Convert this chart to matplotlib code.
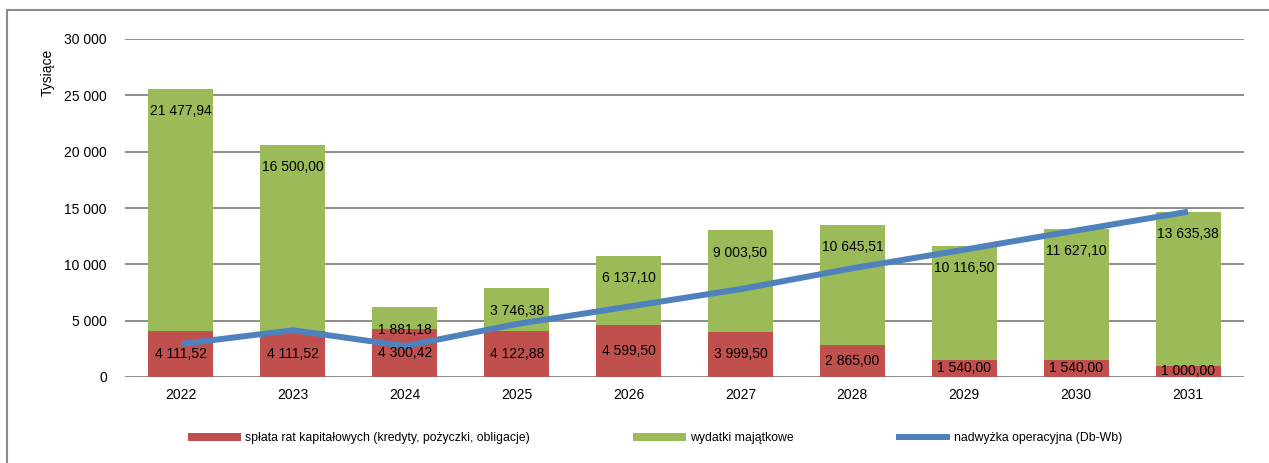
import matplotlib.pyplot as plt
from matplotlib.lines import Line2D
import numpy as np

years = ["2022", "2023", "2024", "2025", "2026", "2027", "2028", "2029", "2030", "2031"]
splata = [4111.52, 4111.52, 4300.42, 4122.88, 4599.50, 3999.50, 2865.00, 1540.00, 1540.00, 1000.00]
wydatki = [21477.94, 16500.00, 1881.18, 3746.38, 6137.10, 9003.50, 10645.51, 10116.50, 11627.10, 13635.38]
# (no labels in the original)
nadwyzka = [2930, 4150, 2750, 4700, 6250, 7800, 9650, 11300, 13000, 14670]

RED = "#C0504D"
GREEN = "#9BBB59"
BLUE = "#4F81BD"
GRID = "#8c8c8c"

plt.rcParams["font.family"] = ["Liberation Sans", "DejaVu Sans"]


def pl_num(v: float) -> str:
    return f"{v:,.2f}".replace(",", " ").replace(".", ",")


def pl_int(v: float, _pos=None) -> str:
    return f"{int(v):,}".replace(",", " ")


fig = plt.figure(figsize=(12.69, 4.63), dpi=100)
ax = fig.add_axes([125 / 1269, 1 - 377 / 463, (1244 - 125) / 1269, (377 - 39) / 463])

x = np.arange(len(years))
w = 0.58
b1 = ax.bar(x, splata, width=w, color=RED, label="spłata rat kapitałowych (kredyty, pożyczki, obligacje)", zorder=2)
b2 = ax.bar(x, wydatki, width=w, bottom=splata, color=GREEN, label="wydatki majątkowe", zorder=2)
ln, = ax.plot(x, nadwyzka, color=BLUE, linewidth=4.3, solid_capstyle="butt",
              label="nadwyżka operacyjna (Db-Wb)", zorder=3)

for i in range(len(years)):
    ax.text(x[i], splata[i] / 2, pl_num(splata[i]), ha="center", va="center",
            fontsize=10, zorder=4)
    top = splata[i] + wydatki[i]
    ax.annotate(pl_num(wydatki[i]), (x[i], top), xytext=(0, -16), textcoords="offset points",
                ha="center", va="center", fontsize=10, zorder=4)

ax.set_xlim(-0.5, len(years) - 0.5)
ax.set_ylim(0, 30000)
ax.set_yticks(np.arange(0, 30001, 5000))
ax.yaxis.set_major_formatter(pl_int)
ax.set_xticks(x, labels=years)
ax.tick_params(axis="y", length=0, pad=13, labelsize=10)
ax.tick_params(axis="x", length=0, pad=8, labelsize=10)
ax.grid(axis="y", color=GRID, linewidth=1.4, zorder=1)
ax.set_axisbelow(True)
for s in ax.spines.values():
    s.set_visible(False)

fig.text(48 / 1269, 1 - 72 / 463, "Tysiące", rotation=90, ha="center", va="center", fontsize=10)

fig.legend(handles=[b1, b2, ln], loc="center", bbox_to_anchor=(0.516, 1 - 438 / 463),
           ncol=3, frameon=False, fontsize=8.8, handlelength=4.4, handleheight=0.65,
           handletextpad=0.3, columnspacing=8.4)

# outer frame (left and top edge only)
fig.add_artist(Line2D([7 / 1269, 7 / 1269], [0, 1 - 10 / 463], color=GRID, linewidth=1.5,
                      transform=fig.transFigure))
fig.add_artist(Line2D([7 / 1269, 1], [1 - 10 / 463, 1 - 10 / 463], color=GRID, linewidth=1.5,
                      transform=fig.transFigure))

fig.savefig("out.png", dpi=100)
